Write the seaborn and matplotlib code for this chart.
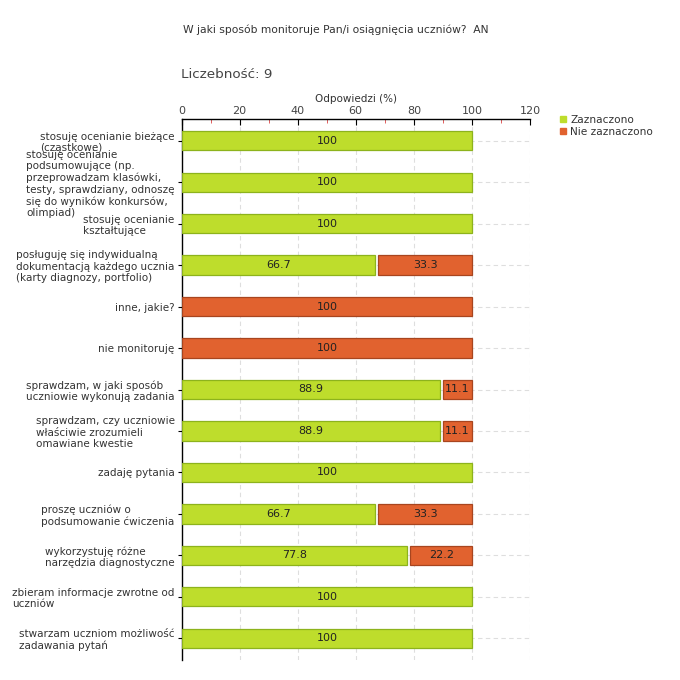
import matplotlib
matplotlib.use("Agg")
import matplotlib.pyplot as plt
import seaborn as sns
import pandas as pd
import numpy as np
from matplotlib.ticker import MultipleLocator
from matplotlib.lines import Line2D

categories = [
    "stosuję ocenianie bieżące\n(cząstkowe)",
    "stosuję ocenianie\npodsumowujące (np.\nprzeprowadzam klasówki,\ntesty, sprawdziany, odnoszę\nsię do wyników konkursów,\nolimpiad)",
    "stosuję ocenianie\nkształtujące",
    "posługuję się indywidualną\ndokumentacją każdego ucznia\n(karty diagnozy, portfolio)",
    "inne, jakie?",
    "nie monitoruję",
    "sprawdzam, w jaki sposób\nuczniowie wykonują zadania",
    "sprawdzam, czy uczniowie\nwłaściwie zrozumieli\nomawiane kwestie",
    "zadaję pytania",
    "proszę uczniów o\npodsumowanie ćwiczenia",
    "wykorzystuję różne\nnarzędzia diagnostyczne",
    "zbieram informacje zwrotne od\nuczniów",
    "stwarzam uczniom możliwość\nzadawania pytań",
]
zaznaczono = [100, 100, 100, 66.7, 0, 0, 88.9, 88.9, 100, 66.7, 77.8, 100, 100]
nie_zaznaczono = [0, 0, 0, 33.3, 100, 100, 11.1, 11.1, 0, 33.3, 22.2, 0, 0]
series_names = ["Zaznaczono", "Nie zaznaczono"]
title = "W jaki sposób monitoruje Pan/i osiągnięcia uczniów?  AN"
count_text = "Liczebność: 9"
xlabel = "Odpowiedzi (%)"

GREEN, GREEN_E = "#bedd2c", "#8db31c"
ORANGE, ORANGE_E = "#e1622f", "#a8451f"

sns.set_style("white")
plt.rcParams["font.family"] = ["DejaVu Sans"]

fig = plt.figure(figsize=(6.8, 6.8), dpi=100)
ax = fig.add_axes([181.5 / 680, 1 - 660 / 680, (530 - 181.5) / 680, (660 - 119) / 680])

df = pd.DataFrame({"cat": categories, "z": zaznaczono, "n": nie_zaznaczono})

sns.barplot(data=df, x="z", y="cat", orient="h", color=GREEN, edgecolor=GREEN_E,
            linewidth=0.9, width=0.46, saturation=1, ax=ax, zorder=3)
sns.barplot(data=df, x="n", y="cat", orient="h", color=ORANGE, edgecolor=ORANGE_E,
            linewidth=0.9, width=0.46, saturation=1, ax=ax, zorder=3)

cz, cn = ax.containers[0], ax.containers[1]
for p, g in zip(cz.patches, zaznaczono):
    if g <= 0:
        p.set_visible(False)
    else:
        p.set_x(0.3)
        p.set_width(g - 0.3)
for p, g, o in zip(cn.patches, zaznaczono, nie_zaznaczono):
    if o <= 0:
        p.set_visible(False)
    else:
        start = g + 1.0 if g > 0 else 0.3
        p.set_x(start)
        p.set_width(g + o - start)

ax.bar_label(cz, labels=[f"{v:g}" if v > 0 else "" for v in zaznaczono],
             label_type="center", fontsize=8, color="#222222")
ax.bar_label(cn, labels=[f"{v:g}" if v > 0 else "" for v in nie_zaznaczono],
             label_type="center", fontsize=8, color="#222222")

ax.set_xlim(0, 120)
ax.set_ylim(12.52, -0.52)
ax.xaxis.tick_top()
ax.xaxis.set_label_position("top")
ax.xaxis.set_major_locator(MultipleLocator(20))
ax.xaxis.set_minor_locator(MultipleLocator(10))
ax.set_xlabel(xlabel, fontsize=7.5, color="#333333", labelpad=3)
ax.set_ylabel("")
ax.tick_params(axis="x", which="major", direction="in", length=4, color="black",
               labelsize=8, labelcolor="#444444", pad=2, top=True, bottom=False)
ax.tick_params(axis="x", which="minor", direction="in", length=3, color="#dd4444",
               top=True, bottom=False)
ax.tick_params(axis="y", direction="out", length=3, color="black", labelsize=7.45,
               labelcolor="#333333", left=True, pad=2)
for lab in ax.get_yticklabels():
    lab.set_multialignment("left")
    lab.set_linespacing(1.18)

for s in ["right", "bottom"]:
    ax.spines[s].set_visible(False)
for s in ["top", "left"]:
    ax.spines[s].set_color("black")
    ax.spines[s].set_linewidth(1.0)

ax.set_axisbelow(True)
ax.grid(True, axis="both", which="major", color="#dedede", linestyle=(0, (4, 3)), linewidth=0.8)

fig.text(183 / 680, 1 - 30 / 680, title, fontsize=7.75, color="#333333", va="center", ha="left")
fig.text(181 / 680, 1 - 75 / 680, count_text, fontsize=9.7, color="#444444", va="center", ha="left")

handles = [Line2D([], [], marker="s", linestyle="", markersize=5, markerfacecolor=GREEN,
                  markeredgecolor=GREEN),
           Line2D([], [], marker="s", linestyle="", markersize=5, markerfacecolor=ORANGE,
                  markeredgecolor=ORANGE)]
leg = fig.legend(handles, series_names, loc="upper left", bbox_to_anchor=(560 / 680, 1 - 115 / 680),
                 frameon=False, fontsize=7.6, handlelength=0.6, handletextpad=0.35,
                 labelspacing=0.2, borderaxespad=0, borderpad=0)
for t in leg.get_texts():
    t.set_color("#333333")

fig.savefig("out.png", dpi=100)
